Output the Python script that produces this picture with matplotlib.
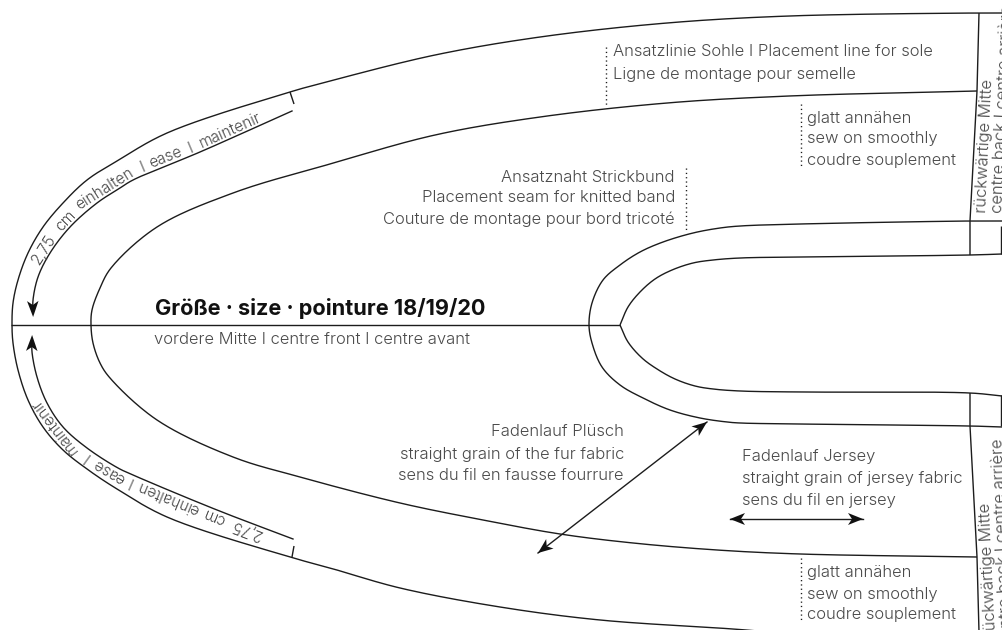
import numpy as np
import matplotlib
matplotlib.use("Agg")
import matplotlib.pyplot as plt
from matplotlib.patches import Polygon

FONT = "Inter"
INK = "#1c1c1c"
GREY = "#4a4a4a"
FS = 11.95
FS_CURVED = 11.2

# --- outline pieces (x, y in image pixels) ---
outer_top = [(12,325),(13,303),(18,280),(28,253),(43,227),(63,203),(87,180),(117,161),(167,133),(290,92),(330,81),(435,55),(540,37),(667,23),(789,16),(978,13),(1002,13)]
outer_bot = [(12,325),(13,343),(18,370),(28,400),(43,427),(63,450),(87,469),(117,489),(167,517),(290,557),(330,568),(400,588),(500,607),(600,620),(733,629),(770,632)]
sole_top = [(91,325),(92,310),(100,288),(111,268),(157,227),(233,193),(330,164),(435,135),(540,117),(667,103),(789,96),(977,91)]
sole_bot = [(91,325),(93,343),(100,363),(110,378),(157,420),(233,457),(300,477),(400,503),(483,520),(560,534),(633,543),(717,550),(800,554),(977,557)]
band_o_top = [(589,325),(592,303),(603,280),(620,265),(640,252),(663,242),(693,233),(720,228),(740,226),(800,224),(970,221),(1002,221)]
band_i_top = [(620,325),(628,307),(640,292),(655,279),(672,270),(693,263),(713,260),(740,258),(800,257),(970,255),(1002,254)]
band_o_bot = [(589,325),(592,343),(602,367),(620,385),(643,398),(670,410),(700,418),(727,422),(740,423),(800,424),(970,426),(1002,427)]
band_i_bot = [(620,325),(628,342),(642,358),(657,369),(675,379),(695,386),(713,389),(740,391),(800,392),(970,393),(1002,396)]
straight_lines = [
    [(11,325),(620,325)],
    [(979,13),(977,91),(970,221),(970,255)],
    [(970,393),(970,426),(977,557),(979,632)],
    [(1001,226),(1001,254)],
    [(1001,395),(1001,426)],
    [(290,92),(294,104)],
    [(292,557),(294,546)],
]
ease_top = [(292,111),(200,152),(133,180),(120,188),(97,203),(70,227),(50,253),(38,277),(33,300),(33,312)]
ease_bot = [(293,539),(217,510),(133,475),(118,468),(87,448),(63,427),(47,403),(37,377),(32,352),(32,340)]
grain_fur = [(538,553),(707,422)]
grain_jersey = [(730,519),(863,519)]
dotted_lines = [[(606,47),(606,105)],[(801,104),(801,167)],[(686,168),(686,230)],[(801,558),(801,622)]]

# --- labels ---
title = "Größe · size · pointure 18/19/20"
centre_front = "vordere Mitte I centre front I centre avant"
sole_lines = ["Ansatzlinie Sohle I Placement line for sole", "Ligne de montage pour semelle"]
smooth_lines = ["glatt annähen", "sew on smoothly", "coudre souplement"]
seam_lines = ["Ansatznaht Strickbund", "Placement seam for knitted band", "Couture de montage pour bord tricoté"]
fur_lines = ["Fadenlauf Plüsch", "straight grain of the fur fabric", "sens du fil en fausse fourrure"]
jersey_lines = ["Fadenlauf Jersey", "straight grain of jersey fabric", "sens du fil en jersey"]
back_lines = ["rückwärtige Mitte", "centre back I centre arrière"]
ease_words = ["2,75", "cm", "einhalten", "I", "ease", "I", "maintenir"]


def smooth(pts, n=24):
    """Centripetal Catmull-Rom through the read points."""
    p = np.array(pts, float)
    p = np.vstack([2*p[0]-p[1], p, 2*p[-1]-p[-2]])
    out = []
    for i in range(1, len(p)-2):
        a, b, c, d = p[i-1], p[i], p[i+1], p[i+2]
        t0 = np.hypot(*(b-a))**0.5
        t1 = np.hypot(*(c-b))**0.5
        t2 = np.hypot(*(d-c))**0.5
        m1 = ((b-a)/t0-(c-a)/(t0+t1)+(c-b)/t1)*t1
        m2 = ((c-b)/t1-(d-b)/(t1+t2)+(d-c)/t2)*t1
        u = np.linspace(0, 1, n, endpoint=False)[:, None]
        out.append((2*u**3-3*u**2+1)*b+(u**3-2*u**2+u)*m1+(-2*u**3+3*u**2)*c+(u**3-u**2)*m2)
    out.append(p[-2][None])
    return np.vstack(out)


fig = plt.figure(figsize=(10.02, 6.30), dpi=100)
ax = fig.add_axes([0, 0, 1, 1])
ax.set_xlim(0, 1002)
ax.set_ylim(630, 0)
ax.axis("off")
LW = 1.0

joined = [outer_top[::-1]+outer_bot[1:], sole_top[::-1]+sole_bot[1:], band_o_top[::-1]+band_o_bot[1:], band_i_top, band_i_bot]
for c in joined:
    s = smooth(c)
    ax.plot(s[:, 0], s[:, 1], color=INK, lw=LW, solid_capstyle="butt")
for l in straight_lines:
    a = np.array(l)
    ax.plot(a[:, 0], a[:, 1], color=INK, lw=LW, solid_capstyle="butt")
for l in dotted_lines:
    a = np.array(l)
    ax.plot(a[:, 0], a[:, 1], color=INK, lw=1.0, ls=(0, (0.9, 2.2)))


def head(tip, d, L=15, W=12, notch=4):
    d = np.array(d, float)/np.hypot(*d)
    n = np.array([-d[1], d[0]])
    tip = np.array(tip, float)
    pts = [tip, tip-L*d+W/2*n, tip-(L-notch)*d, tip-L*d-W/2*n]
    ax.add_patch(Polygon(pts, closed=True, fc="#111111", ec="none", zorder=3))


for c in (ease_top, ease_bot):
    s = smooth(c)
    ax.plot(s[:, 0], s[:, 1], color=INK, lw=LW)
    head(s[-1]+(s[-1]-s[-6])/np.hypot(*(s[-1]-s[-6]))*5, s[-1]-s[-6], L=16, W=11.5)
for g in (grain_fur, grain_jersey):
    a = np.array(g, float)
    ax.plot(a[:, 0], a[:, 1], color=INK, lw=LW)
    head(a[1], a[1]-a[0])
    head(a[0], a[0]-a[1])


def txt(x, y, s, **kw):
    kw.setdefault("color", GREY)
    kw.setdefault("fontsize", FS)
    kw.setdefault("va", "center")
    return ax.text(x, y, s, family=FONT, weight=300, **kw)


ax.text(155, 315, title, family=FONT, weight="bold", fontsize=15.6, color="#111111", va="baseline")
txt(154, 339, centre_front)
for y, s in zip((52, 74), sole_lines):
    txt(613, y, s)
for y, s in zip((118, 139, 160), smooth_lines):
    txt(807, y, s)
for y, s in zip((572, 594, 615), smooth_lines):
    txt(807, y, s)
for y, s in zip((177, 198, 219), seam_lines):
    txt(675, y, s, ha="right")
for y, s in zip((432, 454, 475), fur_lines):
    txt(624, y, s, ha="right")
for y, s in zip((457, 479, 500), jersey_lines):
    txt(742, y, s)
for x, y, s in ((986, 213, back_lines[0]), (1002, 213, back_lines[1])):
    txt(x, y, s, rotation=87.3, rotation_mode="anchor", va="baseline", ha="left")
for x, y, s in ((990, 503, back_lines[0]), (1002, 438, back_lines[1])):
    txt(x, y, s, rotation=92.7, rotation_mode="anchor", va="baseline", ha="right")

# words set along the ease arrows
r = fig.canvas.get_renderer()


def width(s):
    t = txt(0, 0, s, fontsize=FS_CURVED)
    w = t.get_window_extent(r).width
    t.remove()
    return w


def along(curve, start, off, reverse):
    s = smooth(curve)
    if reverse:
        s = s[::-1]
    seg = np.diff(s, axis=0)
    dist = np.r_[0, np.cumsum(np.hypot(*seg.T))]
    space = width("a a")-width("aa")+2.0
    pos = start
    for w in ease_words:
        ww = width(w)
        i = min(np.searchsorted(dist, pos+ww/2), len(seg)-1)
        d = seg[i]/np.hypot(*seg[i])
        angle = np.degrees(np.arctan2(-d[1], d[0]))
        nrm = np.array([d[1], -d[0]])
        p = s[i] + nrm*off - d*ww/2
        txt(p[0], p[1], w, fontsize=FS_CURVED, rotation=angle, rotation_mode="anchor", va="baseline", ha="left")
        pos += ww+space


along(ease_top, 46, 3.0, True)
along(ease_bot, 29, 2.5, False)

fig.savefig("out.png", dpi=100)
